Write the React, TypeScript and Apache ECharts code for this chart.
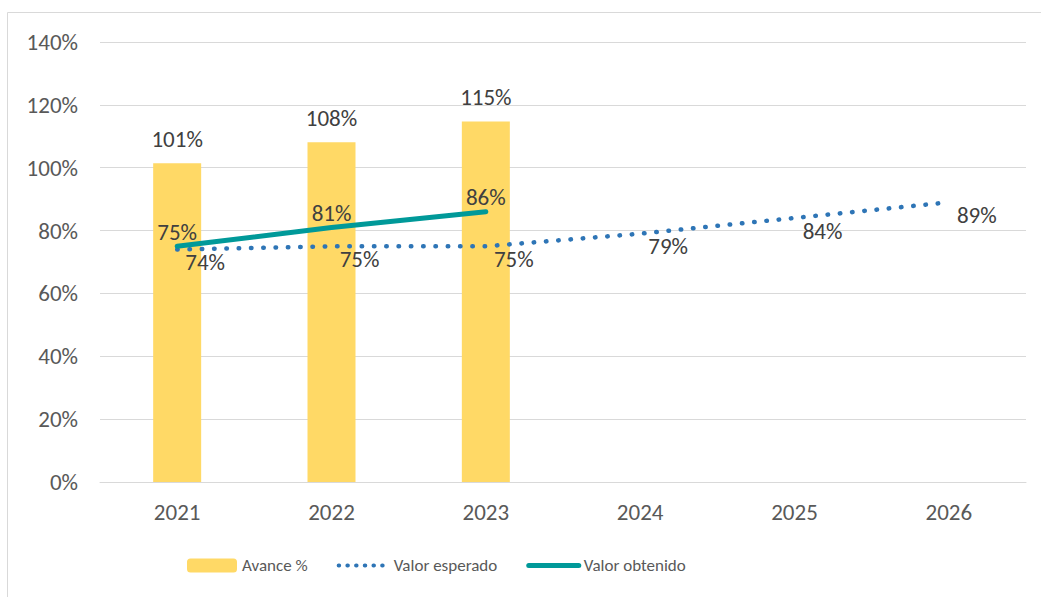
import React, { useEffect, useRef } from "react";
import * as echarts from "echarts";

const years = ["2021", "2022", "2023", "2024", "2025", "2026"];
const avance = [101.4, 108.1, 114.7];
const esperado = [74, 75, 75, 79, 84, 89];
const obtenido = [75, 81, 86];
const yTicks = [0, 20, 40, 60, 80, 100, 120, 140];

const FONT = 'Carlito, Calibri, "Liberation Sans", sans-serif';
const BLUE = "#2E75B6";
const TEAL = "#009999";

export default function App() {
  const ref = useRef<HTMLDivElement>(null);
  useEffect(() => {
    if (!ref.current) return;
    const chart = echarts.init(ref.current, undefined, { renderer: "svg" });
    const pct = (p: any) => `${Math.round(p.value)}%`;
    chart.setOption({
      animation: false,
      backgroundColor: "#ffffff",
      textStyle: { fontFamily: FONT },
      graphic: [
        {
          type: "rect",
          shape: { x: 7.5, y: 12.5, width: 1100, height: 700 },
          style: { fill: "none", stroke: "#D9D9D9", lineWidth: 1 },
          silent: true,
          z: -10,
        },
      ],
      grid: { left: 100, right: 15, top: 42, bottom: 115 },
      legend: {
        left: 187,
        top: 557,
        padding: 0,
        itemWidth: 50,
        itemHeight: 14,
        itemGap: 29,
        textStyle: { fontSize: 17, color: "#595959", fontFamily: FONT },
        data: [
          { name: "Avance %" },
          {
            name: "Valor esperado",
            itemStyle: { opacity: 0 },
            lineStyle: { color: BLUE, width: 4, type: [0.5, 8.2], cap: "round" },
          },
          {
            name: "Valor obtenido",
            itemStyle: { opacity: 0 },
            lineStyle: { color: TEAL, width: 5, cap: "round" },
          },
        ],
      },
      xAxis: {
        type: "category",
        data: years,
        axisLine: { lineStyle: { color: "#D9D9D9", width: 1 } },
        axisTick: { show: false },
        axisLabel: { color: "#595959", fontSize: 23, margin: 18, fontFamily: FONT },
      },
      yAxis: {
        type: "value",
        min: yTicks[0],
        max: yTicks[yTicks.length - 1],
        interval: 20,
        axisLine: { show: false },
        axisTick: { show: false },
        splitLine: { lineStyle: { color: "#D9D9D9", width: 1 } },
        axisLabel: {
          color: "#595959",
          fontSize: 23,
          margin: 22,
          fontFamily: FONT,
          formatter: (v: number) => `${v}%`,
        },
      },
      series: [
        {
          name: "Avance %",
          type: "bar",
          data: avance,
          barWidth: 48,
          itemStyle: { color: "#FFD966" },
          label: {
            show: true,
            position: "top",
            distance: 13,
            color: "#404040",
            fontSize: 23,
            fontFamily: FONT,
            formatter: pct,
          },
          z: 1,
        },
        {
          name: "Valor esperado",
          type: "line",
          data: esperado,
          symbol: "circle",
          symbolSize: 0,
          showSymbol: true,
          lineStyle: { color: BLUE, width: 4.5, type: [0.5, 11.8], cap: "round" },
          itemStyle: { color: BLUE },
          label: {
            show: true,
            position: "bottom",
            distance: 1,
            offset: [28, 0],
            color: "#404040",
            fontSize: 23,
            fontFamily: FONT,
            formatter: pct,
          },
          z: 3,
        },
        {
          name: "Valor obtenido",
          type: "line",
          data: obtenido,
          symbol: "circle",
          symbolSize: 0,
          showSymbol: true,
          lineStyle: { color: TEAL, width: 5, cap: "round" },
          itemStyle: { color: TEAL },
          label: {
            show: true,
            position: "top",
            distance: 3,
            color: "#404040",
            fontSize: 23,
            fontFamily: FONT,
            formatter: pct,
          },
          z: 4,
        },
      ],
    });
    return () => chart.dispose();
  }, []);
  return (
    <div
      ref={ref}
      style={{ position: "absolute", left: 0, top: 0, width: 1041, height: 597 }}
    />
  );
}
